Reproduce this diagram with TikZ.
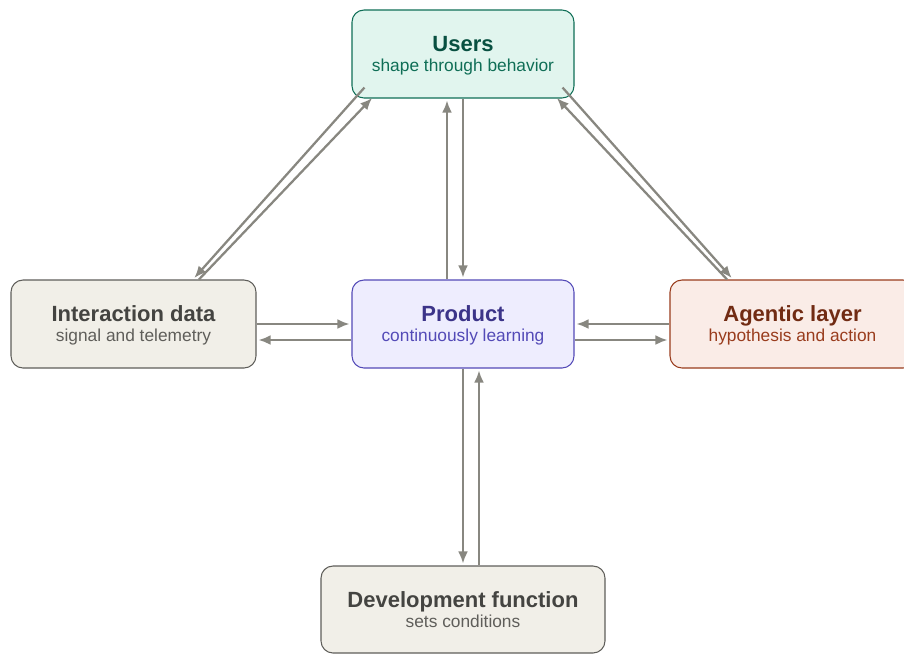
\documentclass[tikz,border=0pt]{standalone}
\usepackage{fontspec}
\setmainfont{Liberation Sans}
\usetikzlibrary{arrows.meta}

\definecolor{usersfill}{HTML}{E1F5EE}
\definecolor{usersdraw}{HTML}{0F6E56}
\definecolor{userstitle}{HTML}{085041}
\definecolor{userssub}{HTML}{0F6E56}
\definecolor{prodfill}{HTML}{EEEDFE}
\definecolor{proddraw}{HTML}{534AB7}
\definecolor{prodtitle}{HTML}{3C3489}
\definecolor{prodsub}{HTML}{534AB7}
\definecolor{agentfill}{HTML}{FAECE7}
\definecolor{agentdraw}{HTML}{993C1D}
\definecolor{agenttitle}{HTML}{712B13}
\definecolor{agentsub}{HTML}{993C1D}
\definecolor{greyfill}{HTML}{F1EFE8}
\definecolor{greydraw}{HTML}{5F5E5A}
\definecolor{greytitle}{HTML}{444441}
\definecolor{greysub}{HTML}{5F5E5A}
\definecolor{flow}{HTML}{888780}

\newcommand{\boxhead}[1]{{\fontsize{16.5}{15}\selectfont\bfseries\rule{0pt}{15.6pt}#1}}
\newcommand{\boxsub}[1]{\rule[-4pt]{0pt}{4pt}#1}

\begin{document}
\begin{tikzpicture}[x=0.75pt,y=0.75pt,yscale=-1,xscale=1,
  box/.style={draw, rounded corners=9pt, line width=0.8pt, align=center, inner sep=0pt,
    minimum height=66pt, font=\fontsize{13}{15}\selectfont},
  flowarrow/.style={draw=flow, line width=1.7pt, shorten >=1.5pt, -{Latex[length=9pt,width=7.5pt]}}]

\clip (0,0) rectangle (904,654);

\node [box, fill=usersfill, draw=usersdraw, text=userssub, minimum width=166.5pt] (users) at (463,54)
  {{\color{userstitle}\boxhead{Users}}\\\boxsub{shape through behavior}};
\node [box, fill=greyfill, draw=greydraw, text=greysub, minimum width=183.75pt] (inter) at (133.5,324)
  {{\color{greytitle}\boxhead{Interaction data}}\\\boxsub{signal and telemetry}};
\node [box, fill=prodfill, draw=proddraw, text=prodsub, minimum width=166.5pt] (prod) at (463,324)
  {{\color{prodtitle}\boxhead{Product}}\\\boxsub{continuously learning}};
\node [box, fill=agentfill, draw=agentdraw, text=agentsub, minimum width=183.75pt] (agent) at (792.5,324)
  {{\color{agenttitle}\boxhead{Agentic layer}}\\\boxsub{hypothesis and action}};
\node [box, fill=greyfill, draw=greydraw, text=greysub, minimum width=213pt, minimum height=65.25pt] (dev) at (463,609.5)
  {{\color{greytitle}\boxhead{Development function}}\\\boxsub{sets conditions}};

% users and product
\draw [flowarrow] ([xshift=-12pt]prod.north) -- ([xshift=-12pt]users.south);
\draw [flowarrow] (users.south) -- (prod.north);

% product and development
\draw [flowarrow] (prod.south) -- (dev.north);
\draw [flowarrow] ([xshift=12pt]dev.north) -- ([xshift=12pt]prod.south);

% interaction data and product
\draw [flowarrow] (inter.east) -- (prod.west);
\draw [flowarrow] ([yshift=12pt]prod.west) -- ([yshift=12pt]inter.east);

% agentic layer and product
\draw [flowarrow] (agent.west) -- (prod.east);
\draw [flowarrow] ([yshift=12pt]prod.east) -- ([yshift=12pt]agent.west);

% users and the side boxes
\draw [flowarrow] ([xshift=9.75pt,yshift=-8.25pt]users.south west) -- ([xshift=44.6pt]inter.north);
\draw [flowarrow] ([xshift=49.1pt]inter.north) -- ([xshift=16.5pt,yshift=-1.5pt]users.south west);
\draw [flowarrow] ([xshift=-9pt,yshift=-8.25pt]users.south east) -- ([xshift=-44.6pt]agent.north);
\draw [flowarrow] ([xshift=-49.1pt]agent.north) -- ([xshift=-14.25pt,yshift=-1.5pt]users.south east);

\end{tikzpicture}
\end{document}
